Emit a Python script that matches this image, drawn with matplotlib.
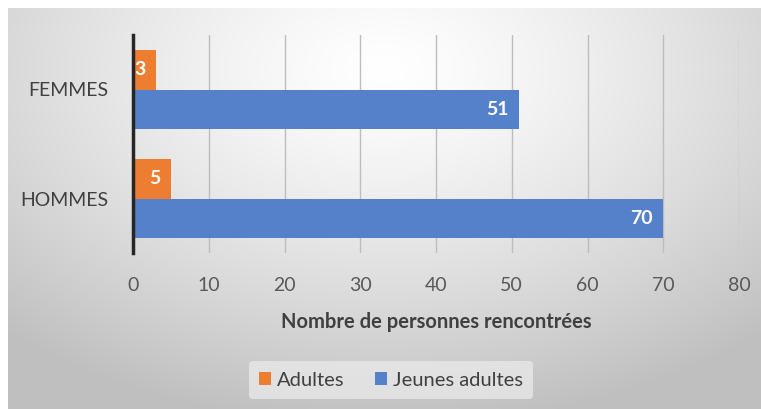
import numpy as np
import matplotlib.pyplot as plt

categories = ['HOMMES', 'FEMMES']
adultes = [5, 3]
jeunes = [70, 51]
ticks = [0, 10, 20, 30, 40, 50, 60, 70, 80]

plt.rcParams['font.family'] = ['Lato', 'DejaVu Sans']

fig = plt.figure(figsize=(7.61, 4.09), dpi=100)
fig.patch.set_facecolor('white')

# radial gradient background
bg = fig.add_axes([8 / 761, 0, 1 - 8 / 761, 1 - 8 / 409])
yy, xx = np.mgrid[0:1:200j, 0:1:400j]
r = np.sqrt(((xx - 0.5) / 0.75) ** 2 + ((yy - 0.15) / 0.9) ** 2)
shade = 1 - 0.25 * np.clip(r, 0, 1) ** 1.3
bg.imshow(np.dstack([shade] * 3), aspect='auto', extent=[0, 1, 1, 0])
bg.set_axis_off()

ax = fig.add_axes([133 / 761, 1 - 253 / 409, (739 - 133) / 761, (253 - 35) / 409])
ax.patch.set_alpha(0)

y = np.arange(len(categories))
h = 0.36
b1 = ax.barh(y + h / 2, adultes, height=h, color='#ED7D31', zorder=3, label='Adultes')
b2 = ax.barh(y - h / 2, jeunes, height=h, color='#5581CA', zorder=3, label='Jeunes adultes')

for bars, vals in [(b1, adultes), (b2, jeunes)]:
    for bar, v in zip(bars, vals):
        ax.text(bar.get_width() - 1.4, bar.get_y() + bar.get_height() / 2, str(v),
                ha='right', va='center', color='white', fontsize=14, fontweight='bold', zorder=4)

ax.set_xlim(0, 80)
ax.set_ylim(-0.5, 1.5)
ax.set_xticks(ticks)
ax.set_yticks(y)
ax.set_yticklabels(categories)
ax.tick_params(axis='x', length=0, pad=17, labelsize=14, labelcolor='#595959')
ax.tick_params(axis='y', length=0, pad=18, labelsize=14, labelcolor='#404040')
ax.grid(axis='x', color='#bdbdbd', linewidth=1, zorder=1)
for s in ['top', 'right', 'bottom']:
    ax.spines[s].set_visible(False)
ax.spines['left'].set_color('#262626')
ax.spines['left'].set_linewidth(2.5)
ax.spines['left'].set_zorder(5)

ax.set_xlabel('Nombre de personnes rencontrées', fontsize=14.5, fontweight='bold',
              color='#404040', labelpad=13)

leg = fig.legend(handles=[b1, b2], loc='center', bbox_to_anchor=(391 / 761, 1 - 380 / 409),
                 ncol=2, frameon=True, fontsize=14.5, handlelength=0.6, handleheight=0.6,
                 handletextpad=0.3, columnspacing=1.5, borderpad=0.5)
leg.get_frame().set_facecolor('#e8e8e8')
leg.get_frame().set_edgecolor('none')
leg.get_frame().set_alpha(0.8)
for t in leg.get_texts():
    t.set_color('#404040')

fig.savefig('out.png', dpi=100)
